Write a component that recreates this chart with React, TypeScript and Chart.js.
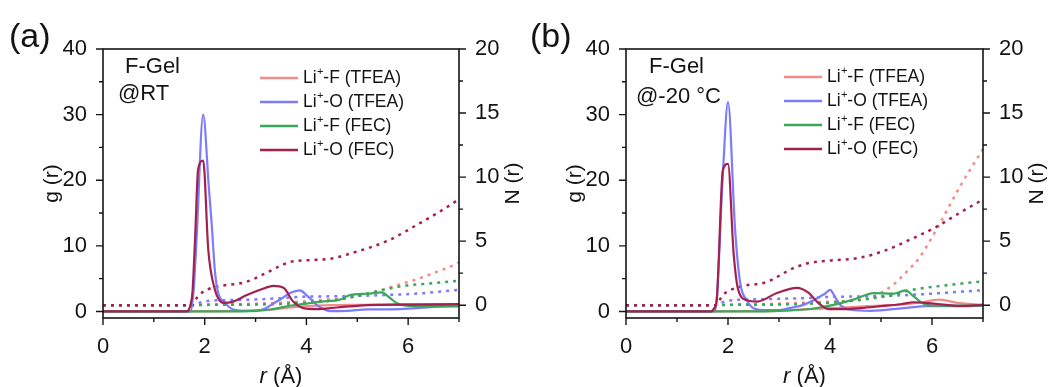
import React, { useEffect, useRef } from 'react';
import { Chart, registerables } from 'chart.js';

Chart.register(...registerables);

// ---------- tick labels ----------
const X_TICKS = [0, 2, 4, 6];
const G_TICKS = [0, 10, 20, 30, 40];
const N_TICKS = [0, 5, 10, 15, 20];

// ---------- series ----------
const SERIES_RESTS = ['-F (TFEA)', '-O (TFEA)', '-F (FEC)', '-O (FEC)'];
const COLORS = ['#F48A8A', '#7B7BFB', '#3BA75A', '#A3214F'];

// ===== Panel (a): F-Gel @RT — g(r) =====
const A_R_LIF_TFEA = [0, 1.7, 2.5, 3.0, 3.4, 3.7, 4.0, 4.5, 5.0, 5.5, 6.0, 6.5, 7.0];
const A_G_LIF_TFEA = [0, 0, 0.05, 0.15, 0.35, 0.6, 0.8, 0.95, 1.0, 1.05, 1.1, 1.1, 1.1];
const A_R_LIO_TFEA = [0, 1.72, 1.78, 1.84, 1.97, 2.08, 2.14, 2.2, 2.26, 2.4, 2.56, 2.8, 3.0, 3.2, 3.35, 3.5, 3.68, 3.87, 4.0, 4.1, 4.2, 4.35, 4.46, 4.8, 5.2, 5.85, 6.5, 7.0];
const A_G_LIO_TFEA = [0, 0, 3, 11, 30, 19, 13, 6.2, 3.0, 1.3, 0.3, 0.1, 0.1, 0.5, 1.2, 1.9, 2.8, 3.2, 2.5, 1.8, 1.0, 0.3, 0.05, 0.1, 0.3, 0.35, 0.7, 0.8];
const A_R_LIF_FEC = [0, 1.65, 2.5, 3.0, 3.3, 3.7, 4.0, 4.27, 4.66, 4.86, 5.2, 5.48, 5.62, 5.77, 5.97, 6.3, 7.0];
const A_G_LIF_FEC = [0, 0, 0, 0.1, 0.3, 0.9, 1.2, 1.5, 1.8, 2.5, 2.7, 2.9, 2.2, 1.3, 0.87, 0.8, 0.8];
const A_R_LIO_FEC = [0, 1.65, 1.72, 1.76, 1.81, 1.87, 1.97, 2.07, 2.19, 2.37, 2.56, 2.83, 3.09, 3.35, 3.55, 3.74, 3.94, 4.2, 4.6, 5.05, 5.5, 6.0, 7.0];
const A_G_LIO_FEC = [0, 0, 1, 3, 11, 21.6, 23, 9.4, 3.6, 1.3, 1.5, 2.5, 3.3, 3.9, 3.6, 1.5, 0.5, 0.36, 0.6, 0.9, 1.0, 1.05, 1.1];

// ===== Panel (a): N(r) =====
const A_NR_LIF_TFEA = [0, 1.75, 2.0, 2.5, 3.0, 3.5, 4.0, 4.27, 4.92, 5.4, 5.9, 6.23, 6.56, 6.88, 7.0];
const A_N_LIF_TFEA = [0, 0, 0.05, 0.08, 0.12, 0.2, 0.3, 0.4, 0.65, 1.1, 1.7, 2.1, 2.6, 3.1, 3.35];
const A_NR_LIO_TFEA = [0, 1.75, 1.85, 1.95, 2.1, 2.5, 3.0, 3.5, 3.9, 4.27, 4.92, 5.6, 6.23, 6.86, 7.0];
const A_N_LIO_TFEA = [0, 0, 0.12, 0.25, 0.35, 0.4, 0.45, 0.55, 0.65, 0.68, 0.72, 0.8, 0.92, 1.15, 1.2];
const A_NR_LIF_FEC = [0, 1.75, 2.0, 3.0, 3.5, 4.0, 4.27, 4.66, 4.92, 5.4, 5.9, 6.5, 7.0];
const A_N_LIF_FEC = [0, 0, 0.02, 0.05, 0.1, 0.18, 0.26, 0.45, 0.65, 1.1, 1.5, 1.72, 1.92];
const A_NR_LIO_FEC = [0, 1.75, 1.85, 1.95, 2.1, 2.3, 2.8, 3.2, 3.5, 3.7, 4.0, 4.5, 4.92, 5.58, 6.23, 6.86, 7.0];
const A_N_LIO_FEC = [0, 0, 0.6, 1.0, 1.3, 1.5, 1.8, 2.5, 3.1, 3.4, 3.5, 3.65, 4.1, 5.0, 6.4, 7.9, 8.3];

// ===== Panel (b): F-Gel @-20 °C — g(r) =====
const B_R_LIF_TFEA = [0, 1.7, 2.5, 3.0, 3.5, 4.0, 4.5, 5.0, 5.5, 5.8, 6.15, 6.5, 7.0];
const B_G_LIF_TFEA = [0, 0, 0.05, 0.1, 0.3, 0.5, 0.7, 0.9, 1.1, 1.4, 1.8, 1.3, 1.0];
const B_R_LIO_TFEA = [0, 1.72, 1.78, 1.9, 2.0, 2.14, 2.24, 2.37, 2.5, 2.76, 3.0, 3.2, 3.48, 3.65, 3.81, 3.9, 4.0, 4.1, 4.2, 4.4, 4.8, 5.44, 5.9, 6.56, 7.0];
const B_G_LIO_TFEA = [0, 0, 2, 21, 31.9, 12.4, 4.3, 1.7, 0.5, 0.2, 0.2, 0.5, 1.0, 1.6, 2.3, 2.7, 3.3, 2.2, 1.0, 0.26, 0.1, 0.5, 0.8, 0.8, 0.9];
const B_R_LIF_FEC = [0, 1.68, 2.5, 3.0, 3.5, 3.8, 4.07, 4.46, 4.86, 5.25, 5.48, 5.64, 5.84, 6.03, 7.0];
const B_G_LIF_FEC = [0, 0, 0, 0.1, 0.3, 0.6, 1.0, 1.8, 2.8, 2.7, 3.2, 2.3, 1.17, 0.9, 0.9];
const B_R_LIO_FEC = [0, 1.67, 1.73, 1.78, 1.9, 2.0, 2.11, 2.2, 2.37, 2.57, 2.96, 3.35, 3.57, 3.77, 3.97, 4.3, 4.6, 5.0, 5.38, 5.64, 6.03, 6.56, 7.0];
const B_G_LIO_FEC = [0, 0, 0.5, 1.8, 21.6, 22.5, 8.9, 3.3, 1.7, 1.5, 2.8, 3.6, 2.9, 1.3, 0.36, 0.35, 0.5, 0.8, 1.1, 1.4, 1.2, 0.85, 1.0];

// ===== Panel (b): N(r) =====
const B_NR_LIF_TFEA = [0, 1.75, 2.0, 2.5, 3.0, 3.5, 4.0, 4.5, 4.84, 5.23, 5.5, 5.75, 6.1, 6.54, 7.0];
const B_N_LIF_TFEA = [0, 0, 0.05, 0.08, 0.12, 0.2, 0.28, 0.38, 0.65, 1.56, 2.6, 3.7, 6.0, 9.2, 12.2];
const B_NR_LIO_TFEA = [0, 1.75, 1.85, 1.95, 2.1, 2.5, 3.0, 3.5, 4.0, 4.58, 5.56, 6.3, 7.0];
const B_N_LIO_TFEA = [0, 0, 0.15, 0.3, 0.4, 0.45, 0.5, 0.55, 0.65, 0.68, 0.8, 0.98, 1.17];
const B_NR_LIF_FEC = [0, 1.75, 2.0, 3.0, 3.5, 4.0, 4.58, 5.24, 5.58, 6.3, 7.0];
const B_N_LIF_FEC = [0, 0, 0.02, 0.05, 0.1, 0.2, 0.4, 0.8, 1.17, 1.56, 1.87];
const B_NR_LIO_FEC = [0, 1.75, 1.9, 2.22, 2.75, 3.27, 3.6, 4.05, 4.58, 5.1, 5.56, 6.08, 6.54, 7.0];
const B_N_LIO_FEC = [0, 0, 0.8, 1.43, 1.8, 2.87, 3.3, 3.5, 3.7, 4.3, 5.1, 6.1, 7.2, 8.25];

const FONT = "'Liberation Sans', Arial, Helvetica, sans-serif";
const INK = '#141414';

const pts = (xs: number[], ys: number[]) => xs.map((x, i) => ({ x, y: ys[i] }));

type PanelCfg = {
  tag: string;
  tagX: number;
  notes: string[];
  noteX: number[];
  noteY: number[];
  left: number;
  right: number;
  legendX: number;
  legendY: number[];
  g: [number[], number[]][];
  n: [number[], number[]][];
};

const PANEL_A: PanelCfg = {
  tag: '(a)',
  tagX: 9,
  notes: ['F-Gel', '@RT'],
  noteX: [125, 118],
  noteY: [73, 100],
  left: 103,
  right: 67,
  legendX: 260,
  legendY: [78, 102, 126, 150],
  g: [
    [A_R_LIF_TFEA, A_G_LIF_TFEA],
    [A_R_LIO_TFEA, A_G_LIO_TFEA],
    [A_R_LIF_FEC, A_G_LIF_FEC],
    [A_R_LIO_FEC, A_G_LIO_FEC],
  ],
  n: [
    [A_NR_LIF_TFEA, A_N_LIF_TFEA],
    [A_NR_LIO_TFEA, A_N_LIO_TFEA],
    [A_NR_LIF_FEC, A_N_LIF_FEC],
    [A_NR_LIO_FEC, A_N_LIO_FEC],
  ],
};

const PANEL_B: PanelCfg = {
  tag: '(b)',
  tagX: 4,
  notes: ['F-Gel', '@-20 °C'],
  noteX: [123, 110],
  noteY: [73, 103],
  left: 100,
  right: 69,
  legendX: 258,
  legendY: [77, 101, 125, 149],
  g: [
    [B_R_LIF_TFEA, B_G_LIF_TFEA],
    [B_R_LIO_TFEA, B_G_LIO_TFEA],
    [B_R_LIF_FEC, B_G_LIF_FEC],
    [B_R_LIO_FEC, B_G_LIO_FEC],
  ],
  n: [
    [B_NR_LIF_TFEA, B_N_LIF_TFEA],
    [B_NR_LIO_TFEA, B_N_LIO_TFEA],
    [B_NR_LIF_FEC, B_N_LIF_FEC],
    [B_NR_LIO_FEC, B_N_LIO_FEC],
  ],
};

const decorPlugin = {
  id: 'decor',
  afterDraw(chart: any) {
    const cfg: PanelCfg = chart.options.plugins.decor.cfg;
    const { ctx, chartArea: ca, scales } = chart;
    const sx = scales.x, sy = scales.y, sy2 = scales.y2;
    ctx.save();
    // frame
    ctx.strokeStyle = INK;
    ctx.lineWidth = 1.6;
    ctx.strokeRect(ca.left, ca.top, ca.right - ca.left, ca.bottom - ca.top);
    // ticks (outward)
    ctx.lineWidth = 1.4;
    ctx.beginPath();
    for (let v = 0; v <= 7; v += 1) {
      const px = sx.getPixelForValue(v);
      const len = X_TICKS.includes(v) ? 7 : 4;
      ctx.moveTo(px, ca.bottom);
      ctx.lineTo(px, ca.bottom + len);
    }
    for (let v = 0; v <= 40; v += 5) {
      const py = sy.getPixelForValue(v);
      const len = G_TICKS.includes(v) ? 7 : 4;
      ctx.moveTo(ca.left, py);
      ctx.lineTo(ca.left - len, py);
    }
    for (let v = 0; v <= 20; v += 2.5) {
      const py = sy2.getPixelForValue(v);
      const len = N_TICKS.includes(v) ? 7 : 4;
      ctx.moveTo(ca.right, py);
      ctx.lineTo(ca.right + len, py);
    }
    ctx.stroke();

    ctx.fillStyle = INK;
    // panel tag
    ctx.font = `34px ${FONT}`;
    ctx.textAlign = 'left';
    ctx.textBaseline = 'alphabetic';
    ctx.fillText(cfg.tag, cfg.tagX, 47);
    // notes
    ctx.font = `22px ${FONT}`;
    cfg.notes.forEach((t, i) => ctx.fillText(t, cfg.noteX[i], cfg.noteY[i]));

    // legend
    cfg.legendY.forEach((y, i) => {
      ctx.strokeStyle = COLORS[i];
      ctx.lineWidth = 2.4;
      ctx.beginPath();
      ctx.moveTo(cfg.legendX, y);
      ctx.lineTo(cfg.legendX + 38, y);
      ctx.stroke();
      let x = cfg.legendX + 43;
      ctx.textBaseline = 'middle';
      ctx.font = `17.5px ${FONT}`;
      ctx.fillText('Li', x, y);
      x += ctx.measureText('Li').width;
      ctx.font = `11px ${FONT}`;
      ctx.fillText('+', x + 0.3, y - 6);
      x += ctx.measureText('+').width + 0.3;
      ctx.font = `17.5px ${FONT}`;
      ctx.fillText(SERIES_RESTS[i], x, y);
    });

    // axis titles
    ctx.textBaseline = 'middle';
    ctx.textAlign = 'center';
    ctx.font = `21px ${FONT}`;
    const midY = (ca.top + ca.bottom) / 2;
    ctx.save();
    ctx.translate(ca.left - 51, midY);
    ctx.rotate(-Math.PI / 2);
    ctx.fillText('g (r)', 0, 0);
    ctx.restore();
    ctx.save();
    ctx.translate(ca.right + 54, midY);
    ctx.rotate(-Math.PI / 2);
    ctx.fillText('N (r)', 0, 0);
    ctx.restore();
    // x title: italic r + (Å)
    const cx = (ca.left + ca.right) / 2;
    ctx.textAlign = 'left';
    ctx.font = `italic 22px ${FONT}`;
    const w1 = ctx.measureText('r').width;
    ctx.font = `22px ${FONT}`;
    const w2 = ctx.measureText(' (Å)').width;
    const x0 = cx - (w1 + w2) / 2;
    ctx.font = `italic 22px ${FONT}`;
    ctx.fillText('r', x0, 377);
    ctx.font = `22px ${FONT}`;
    ctx.fillText(' (Å)', x0 + w1, 377);
    ctx.restore();
  },
};

function Panel({ cfg }: { cfg: PanelCfg }) {
  const ref = useRef<HTMLCanvasElement | null>(null);
  useEffect(() => {
    if (!ref.current) return;
    const solid = [3, 2, 1, 0].map((i) => ({
      data: pts(cfg.g[i][0], cfg.g[i][1]),
      borderColor: COLORS[i],
      borderWidth: 2.2,
      pointRadius: 0,
      fill: false,
      yAxisID: 'y',
      cubicInterpolationMode: 'monotone' as const,
    }));
    const dotted = [3, 2, 1, 0].map((i) => ({
      data: pts(cfg.n[i][0], cfg.n[i][1]),
      borderColor: COLORS[i],
      borderWidth: 2.5,
      borderDash: [3, 5],
      pointRadius: 0,
      fill: false,
      yAxisID: 'y2',
      cubicInterpolationMode: 'monotone' as const,
    }));
    const tickFont = { family: FONT, size: 22 };
    const chart = new Chart(ref.current, {
      type: 'line',
      data: { datasets: [...solid, ...dotted] as any },
      plugins: [decorPlugin],
      options: {
        responsive: false,
        animation: false,
        devicePixelRatio: 1,
        events: [],
        layout: { padding: { top: 49, left: 0, right: 0, bottom: 0 } },
        plugins: {
          legend: { display: false },
          tooltip: { enabled: false },
          decor: { cfg },
        } as any,
        scales: {
          x: {
            type: 'linear',
            min: 0,
            max: 7,
            afterBuildTicks: (s: any) => {
              s.ticks = X_TICKS.map((v) => ({ value: v }));
            },
            afterFit: (s: any) => {
              s.height = 69;
            },
            grid: { display: false },
            border: { display: false },
            ticks: { font: tickFont, color: INK, padding: 8, maxRotation: 0, autoSkip: false },
          },
          y: {
            type: 'linear',
            position: 'left',
            min: -1,
            max: 40,
            afterBuildTicks: (s: any) => {
              s.ticks = G_TICKS.map((v) => ({ value: v }));
            },
            afterFit: (s: any) => {
              s.width = cfg.left;
            },
            grid: { display: false },
            border: { display: false },
            ticks: { font: tickFont, color: INK, padding: 8, autoSkip: false },
          },
          y2: {
            type: 'linear',
            position: 'right',
            min: -1,
            max: 20,
            afterBuildTicks: (s: any) => {
              s.ticks = N_TICKS.map((v) => ({ value: v }));
            },
            afterFit: (s: any) => {
              s.width = cfg.right;
            },
            grid: { display: false },
            border: { display: false },
            ticks: { font: tickFont, color: INK, padding: 8, autoSkip: false },
          },
        } as any,
      },
    });
    return () => chart.destroy();
  }, [cfg]);
  return <canvas ref={ref} width={526} height={387} style={{ display: 'block', width: 526, height: 387 }} />;
}

export default function App() {
  return (
    <div
      style={{
        position: 'absolute',
        left: 0,
        top: 0,
        width: 1052,
        height: 387,
        display: 'flex',
        background: '#fff',
      }}
    >
      <Panel cfg={PANEL_A} />
      <Panel cfg={PANEL_B} />
    </div>
  );
}
